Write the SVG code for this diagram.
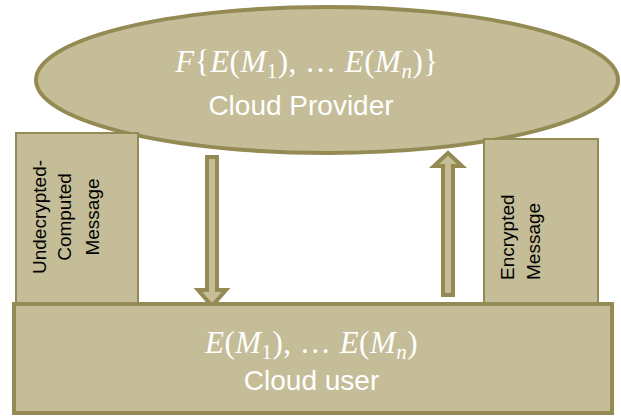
<svg xmlns="http://www.w3.org/2000/svg" width="621" height="416" viewBox="0 0 621 416">
<style>
.shape{fill:#c4bd97;stroke:#948a54}
.thick{stroke-width:4}
.thin{stroke-width:2}
.arrow{fill:#c4bd97;stroke:#948a54;stroke-width:4;stroke-linejoin:miter}
.math{font-family:"Liberation Serif","DejaVu Serif",serif;font-size:31px;fill:#ffffff;letter-spacing:0.5px}
.i{font-style:italic}
.sub{font-size:21px}
.label{font-family:"Liberation Sans",Arial,sans-serif;font-size:28px;fill:#ffffff}
.vt{font-family:"Liberation Sans",Arial,sans-serif;font-size:19px;fill:#000000}
</style>
<rect width="621" height="416" fill="#ffffff"/>
<g id="cloud-provider">
<ellipse class="shape thick" cx="327" cy="80" rx="291" ry="73"/>
<text class="math" x="307" y="72" text-anchor="middle"><tspan class="i">F</tspan>{<tspan class="i">E</tspan>(<tspan class="i">M</tspan><tspan class="sub" dy="6">1</tspan><tspan dy="-6">), … </tspan><tspan class="i">E</tspan>(<tspan class="i">M</tspan><tspan class="sub i" dy="6">n</tspan><tspan dy="-6">)}</tspan></text>
<text class="label" x="301" y="115" text-anchor="middle">Cloud Provider</text>
</g>
<g id="undecrypted-message">
<rect class="shape thin" x="16" y="133" width="122" height="170"/>
<text class="vt" text-anchor="middle" transform="translate(45.5,217) rotate(-90)">Undecrypted-</text>
<text class="vt" text-anchor="middle" transform="translate(71,217) rotate(-90)">Computed</text>
<text class="vt" text-anchor="middle" transform="translate(98.5,217) rotate(-90)">Message</text>
</g>
<g id="encrypted-message">
<rect class="shape thin" x="484" y="139" width="114" height="164"/>
<text class="vt" text-anchor="start" transform="translate(513.5,280) rotate(-90)">Encrypted</text>
<text class="vt" text-anchor="start" transform="translate(539.5,280) rotate(-90)">Message</text>
</g>
<g id="connectors">
<path class="arrow" d="M207,157 L217,157 L217,290 L226,290 L212,306 L198,290 L207,290 Z"/>
<path class="arrow" d="M443,295 L453,295 L453,166 L462,166 L448,153 L434,166 L443,166 Z"/>
</g>
<g id="cloud-user">
<rect class="shape thick" x="14" y="304" width="598" height="109"/>
<text class="math" x="311.5" y="353" text-anchor="middle"><tspan class="i">E</tspan>(<tspan class="i">M</tspan><tspan class="sub" dy="6">1</tspan><tspan dy="-6">), … </tspan><tspan class="i">E</tspan>(<tspan class="i">M</tspan><tspan class="sub i" dy="6">n</tspan><tspan dy="-6">)</tspan></text>
<text class="label" x="311.5" y="390" text-anchor="middle">Cloud user</text>
</g>
</svg>
